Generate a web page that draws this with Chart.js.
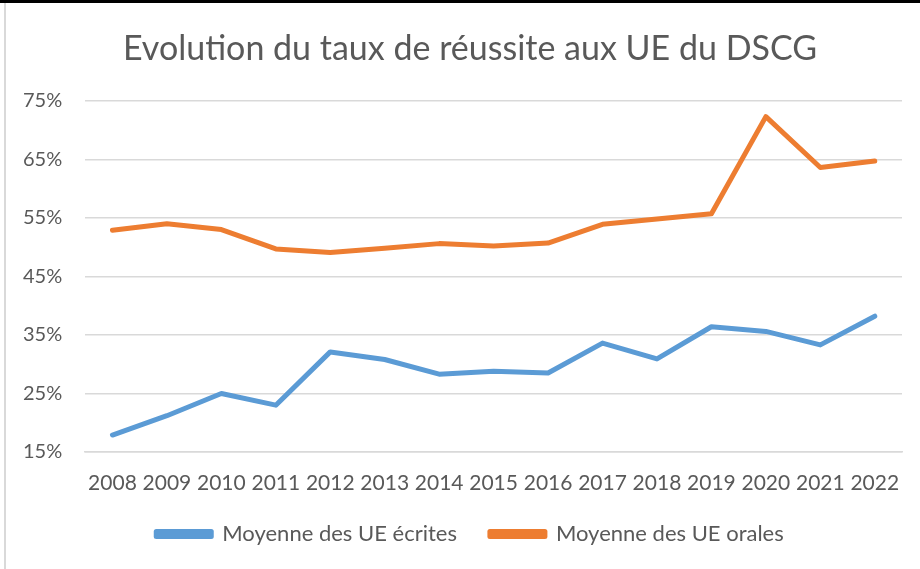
<!DOCTYPE html>
<html>
<head>
<meta charset="utf-8">
<script src="https://cdn.jsdelivr.net/npm/chart.js@4"></script>
<style>
  html, body { margin: 0; padding: 0; background: #fff; overflow: hidden; }
  #wrap { position: relative; width: 920px; height: 569px; overflow: hidden; }
  #inner { position: absolute; left: 0; top: 0; width: 940px; height: 569px; }
  #topline { position: absolute; left: 0; top: 0; width: 920px; height: 3px; background: #000; }
  #leftline { position: absolute; left: 4px; top: 3px; width: 2px; height: 566px; background: #d9d9d9; }
</style>
</head>
<body>
<div id="wrap">
  <div id="inner"><canvas id="myChart"></canvas></div>
  <div id="topline"></div>
  <div id="leftline"></div>
</div>
<script>
const years = ['2008', '2009', '2010', '2011', '2012', '2013', '2014', '2015', '2016', '2017', '2018', '2019', '2020', '2021', '2022'];
const ecrites = [17.9, 21.2, 25.0, 23.0, 32.1, 30.8, 28.3, 28.8, 28.5, 33.6, 30.9, 36.4, 35.6, 33.3, 38.2];
const orales = [52.9, 54.0, 53.0, 49.7, 49.1, 49.8, 50.6, 50.2, 50.7, 53.9, 54.8, 55.7, 72.3, 63.6, 64.7];
const yTicks = [15, 25, 35, 45, 55, 65, 75];

const textColor = '#595959';
const gridColor = '#d9d9d9';
const fontFamily = 'Lato, "Open Sans", sans-serif';

const ctx = document.getElementById('myChart').getContext('2d');

const data = {
    labels: years,
    datasets: [
        {
            label: 'Moyenne des UE écrites',
            data: ecrites,
            borderColor: '#5b9bd5',
            backgroundColor: '#5b9bd5',
        },
        {
            label: 'Moyenne des UE orales',
            data: orales,
            borderColor: '#ed7d31',
            backgroundColor: '#ed7d31',
        }
    ]
};

const config = {
    type: 'line',
    data: data,
    options: {
        responsive: true,
        maintainAspectRatio: false,
        animation: false,
        layout: {
            padding: {left: 0, right: 0, top: 0, bottom: 14}
        },
        elements: {
            line: {
                borderWidth: 5,
                tension: 0,
                borderCapStyle: 'round',
                borderJoinStyle: 'round'
            },
            point: { radius: 0 }
        },
        plugins: {
            legend: {
                position: 'bottom',
                labels: {
                    boxWidth: 55,
                    boxHeight: 5,
                    color: textColor,
                    font: {family: fontFamily, size: 22},
                    padding: 33
                }
            },
            title: {
                display: true,
                text: 'Evolution du taux de réussite aux UE du DSCG',
                color: textColor,
                font: {family: fontFamily, size: 34, weight: 'normal'},
                padding: {top: 29, bottom: 31}
            },
            tooltip: { enabled: false }
        },
        scales: {
            x: {
                offset: true,
                grid: { display: false },
                border: { color: gridColor, width: 1.5 },
                ticks: {
                    color: textColor,
                    font: {family: fontFamily, size: 21},
                    padding: 11,
                    maxRotation: 0,
                    autoSkip: false
                },
                // fixed height so the gap to the legend matches
                afterFit: (axis) => { axis.height = 38; }
            },
            y: {
                min: 15,
                max: 75,
                afterBuildTicks: (axis) => {
                    axis.ticks = yTicks.map(v => ({value: v}));
                },
                grid: { color: gridColor, lineWidth: 1.5, drawTicks: false },
                border: { display: false },
                ticks: {
                    color: textColor,
                    font: {family: fontFamily, size: 20},
                    padding: 23,
                    callback: (v) => v + '%'
                }
            },
            // empty right-hand space: the original chart is cropped on the right
            yRight: {
                position: 'right',
                grid: { display: false },
                border: { display: false },
                ticks: { display: false },
                afterFit: (axis) => { axis.width = 38; }
            }
        }
    }
};

const myChart = new Chart(ctx, config);
</script>
</body>
</html>
